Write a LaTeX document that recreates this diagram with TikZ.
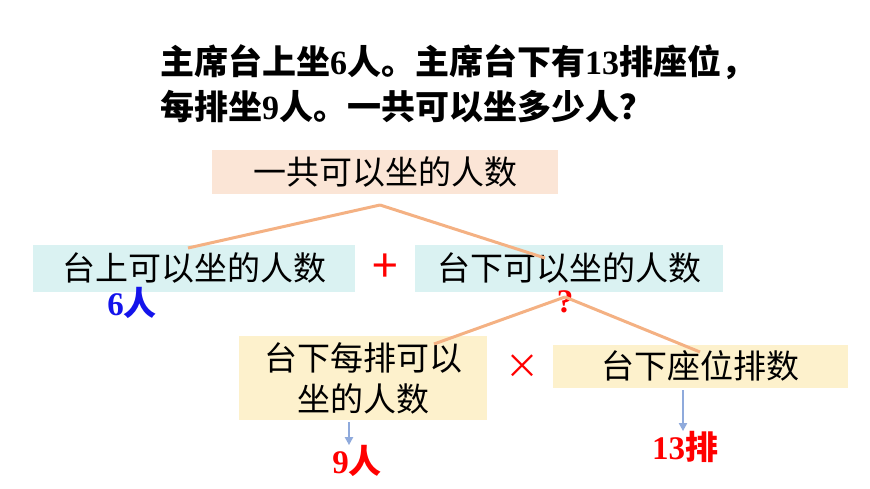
\documentclass[tikz,border=0pt]{standalone}
\usepackage{fontspec}
\setmainfont{Noto Sans CJK SC}
\newfontfamily\numfont{Liberation Serif}
\usetikzlibrary{arrows.meta, positioning}
\definecolor{boxPeach}{RGB}{251,229,214}
\definecolor{boxCyan}{RGB}{218,242,242}
\definecolor{boxYellow}{RGB}{253,241,204}
\definecolor{lineOrange}{RGB}{244,177,131}
\definecolor{arrowBlue}{RGB}{143,170,220}
\definecolor{numBlue}{RGB}{20,20,235}

\begin{document}
\begin{tikzpicture}[
    x=1pt, y=-1pt,
    % Question text: bold, black
    titleStyle/.style={
        anchor=west,
        font=\fontsize{34}{38}\selectfont\bfseries,
        inner sep=0pt
    },
    % Quantity boxes: plain fill, no outline
    boxStyle/.style={
        align=center,
        font=\fontsize{33}{41}\selectfont,
        inner sep=0pt
    },
    % Known or unknown values under the boxes
    valueStyle/.style={
        font=\fontsize{33}{36}\selectfont\bfseries,
        inner sep=0pt
    },
    % Operators between the boxes
    opStyle/.style={
        font=\fontsize{46}{46}\selectfont,
        text=red,
        inner sep=0pt
    },
    % Tree branches
    branchStyle/.style={
        draw=lineOrange, line width=3pt
    },
    % Short arrows down to the values
    arrowStyle/.style={
        draw=arrowBlue, line width=2pt,
        -{Triangle[length=8pt, width=8pt]}
    }
]
\useasboundingbox (0,0) rectangle (870,489);

%--- Question ---
\node[titleStyle] (line1) at (160,62)
  {主席台上坐{\numfont\bfseries 6}人。主席台下有{\numfont\bfseries 13}排座位，};
\node[titleStyle] (line2) at (160,107)
  {每排坐{\numfont\bfseries 9}人。一共可以坐多少人？};

%--- Top box ---
\node[boxStyle, fill=boxPeach, minimum width=346, minimum height=44]
  (total) at (385,172) {一共可以坐的人数};

%--- Middle row ---
\node[boxStyle, fill=boxCyan, minimum width=322, minimum height=47]
  (upper) at (194,268) {台上可以坐的人数};
\node[opStyle] (plus) at (385,268) {+};
\node[boxStyle, fill=boxCyan, minimum width=308, minimum height=47]
  (lower) at (569,268) {台下可以坐的人数};

%--- Bottom row ---
\node[boxStyle, fill=boxYellow, minimum width=248, minimum height=84]
  (perRow) at (363,378) {台下每排可以\\坐的人数};
\node[opStyle, font=\fontsize{34}{34}\selectfont] (times) at (522,367) {×};
\node[boxStyle, fill=boxYellow, minimum width=295, minimum height=43]
  (rows) at (700,366) {台下座位排数};

%--- Values ---
\node[valueStyle, text=numBlue] (upperVal) at (132,303) {{\numfont\bfseries 6}人};
\node[valueStyle, text=red] (lowerVal) at (565,302) {\numfont\bfseries ?};
\node[valueStyle, text=red] (perRowVal) at (357,461) {{\numfont\bfseries 9}人};
\node[valueStyle, text=red] (rowsVal) at (685,447) {{\numfont\bfseries 13}排};

%--- Branch points and branch ends ---
\coordinate (topFork) at (380,205);
\coordinate (upperEnd) at (188,248);
\coordinate (lowerEnd) at (545,258);
\coordinate (lowFork) at (565,297);
\coordinate (perRowEnd) at (434,344);
\coordinate (rowsEnd) at (700,352);
\coordinate (perRowTail) at (349,422);
\coordinate (rowsTail) at (683,390);

%-----------------------
%        Edges
%-----------------------
% total splits into upper + lower
\draw[branchStyle] (topFork) -- (upperEnd);
\draw[branchStyle] (topFork) -- (lowerEnd);

% lower splits into perRow x rows
\draw[branchStyle] (lowFork) -- (perRowEnd);
\draw[branchStyle] (lowFork) -- (rowsEnd);

% boxes point to their values
\draw[arrowStyle] (perRowTail) -- (perRowTail |- perRowVal.north);
\draw[arrowStyle] (rowsTail) -- (rowsTail |- rowsVal.north);
\end{tikzpicture}
\end{document}
